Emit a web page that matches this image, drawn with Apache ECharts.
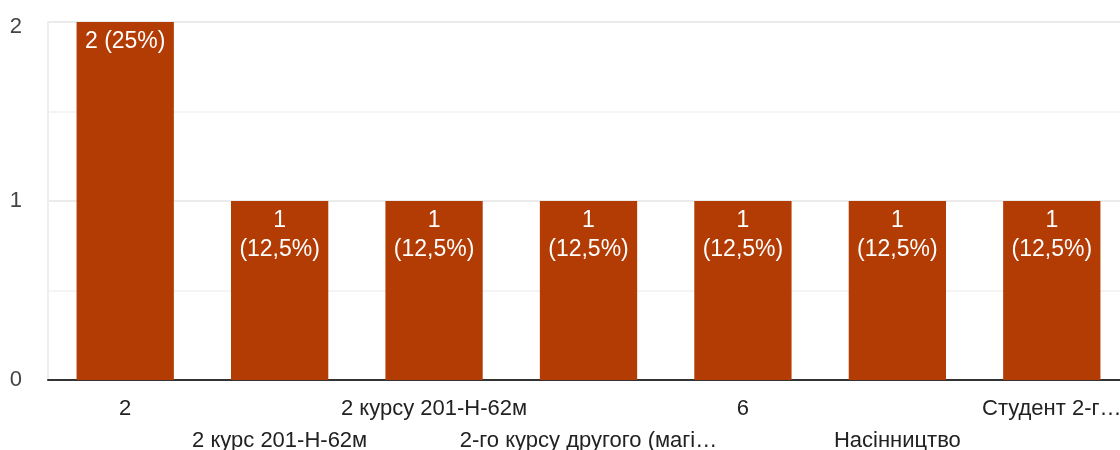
<!DOCTYPE html>
<html>
<head>
<meta charset="utf-8">
<script src="https://cdn.jsdelivr.net/npm/echarts@6/dist/echarts.min.js"></script>
<style>html,body{margin:0;padding:0;background:#fff}#c{width:1120px;height:450px}</style>
</head>
<body>
<div id="c"></div>
<script>
var categories = ["2", "2 курс 201-Н-62м", "2 курсу 201-Н-62м", "2-го курсу другого (магі…", "6", "Насінництво", "Студент 2-г…"];
var counts = [2, 1, 1, 1, 1, 1, 1];
var percents = ["25%", "12,5%", "12,5%", "12,5%", "12,5%", "12,5%", "12,5%"];
var yTicks = [0, 1, 2];

var FONT = '"Liberation Sans", Arial, sans-serif';
var chart = echarts.init(document.getElementById('c'));
chart.setOption({
  animation: false,
  grid: { left: 48, width: 1081, top: 22, bottom: 70, containLabel: false, outerBoundsMode: 'none' },
  xAxis: {
    type: 'category',
    data: categories,
    axisTick: { show: false },
    axisLine: { lineStyle: { color: '#333', width: 2 } },
    axisLabel: {
      interval: 0,
      color: '#222',
      fontFamily: FONT,
      fontSize: 22,
      lineHeight: 32,
      margin: 13,
      formatter: function (v, i) { return i % 2 ? '\n' + v : v; }
    }
  },
  yAxis: {
    type: 'value',
    min: yTicks[0],
    max: yTicks[yTicks.length - 1],
    interval: 1,
    axisLine: { show: true, lineStyle: { color: '#eee', width: 2 } },
    axisTick: { show: false },
    axisLabel: {
      color: '#444', fontFamily: FONT, fontSize: 22, margin: 26,
      formatter: function (v) { return v === yTicks[yTicks.length - 1] ? '{top|' + v + '}' : String(v); },
      rich: { top: { color: '#444', fontFamily: FONT, fontSize: 22, padding: [10, 0, 0, 0] } }
    },
    splitLine: { lineStyle: { color: '#ebebeb', width: 2 } },
    minorTick: { show: false, splitNumber: 2 },
    minorSplitLine: { show: true, lineStyle: { color: '#f4f4f4', width: 2 } }
  },
  series: [{
    type: 'bar',
    data: counts,
    barWidth: '63%',
    itemStyle: { color: '#b33c04' },
    label: {
      show: true,
      position: 'insideTop',
      distance: 5,
      color: '#fff',
      fontFamily: FONT,
      fontSize: 23,
      lineHeight: 29,
      formatter: function (p) {
        var t = p.value + ' (' + percents[p.dataIndex] + ')';
        return p.value >= 2 ? t : p.value + '\n(' + percents[p.dataIndex] + ')';
      }
    }
  }]
});
</script>
</body>
</html>
